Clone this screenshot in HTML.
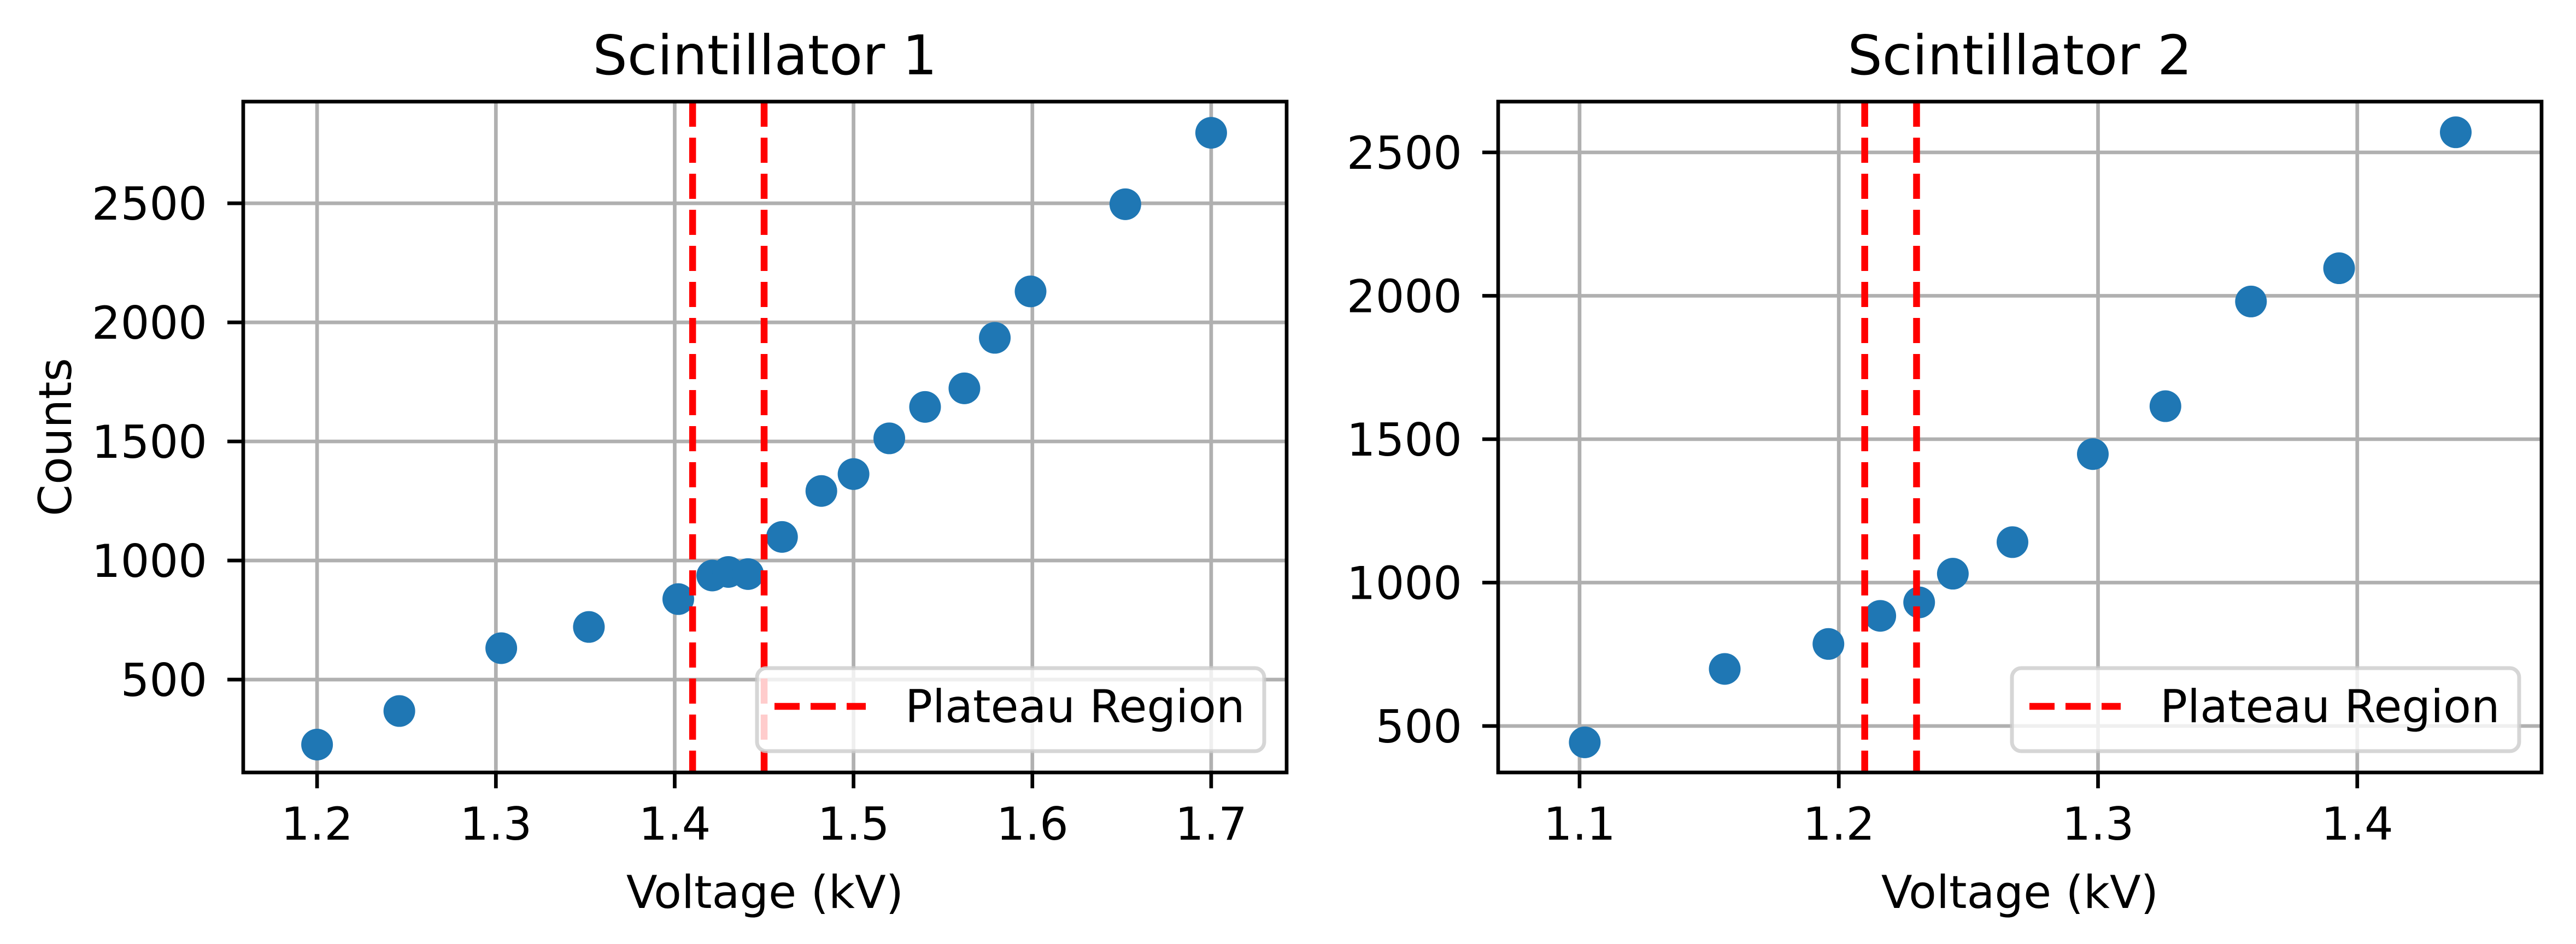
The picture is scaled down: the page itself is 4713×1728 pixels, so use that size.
<!DOCTYPE html>
<html><head><meta charset="utf-8"><style>
html,body{margin:0;padding:0;background:#fff;}
svg{display:block;font-family:"DejaVu Sans","Liberation Sans",sans-serif;}
</style></head><body>
<svg id="fig" width="4713" height="1728" viewBox="0 0 4713 1728" xmlns="http://www.w3.org/2000/svg"></svg>
<script>
const s1Volt=[1.2,1.246,1.303,1.352,1.402,1.421,1.43,1.441,1.46,1.482,1.5,1.52,1.54,1.562,1.579,1.599,1.652,1.7];
const s1Counts=[227,368,632,721,838,937,952,943,1099,1292,1363,1513,1645,1723,1935,2130,2496,2796];
const s1Plateau=[1.41,1.45];
const s1XTicks=[1.2,1.3,1.4,1.5,1.6,1.7];
const s1YTicks=[500,1000,1500,2000,2500];
const s2Volt=[1.102,1.156,1.196,1.216,1.231,1.244,1.267,1.298,1.326,1.359,1.393,1.438];
const s2Counts=[443,699,786,884,931,1031,1141,1448,1615,1980,2096,2570];
const s2Plateau=[1.21,1.23];
const s2XTicks=[1.1,1.2,1.3,1.4];
const s2YTicks=[500,1000,1500,2000,2500];

const NS="http://www.w3.org/2000/svg";
const svg=document.getElementById('fig');
function mk(tag,attrs,parent){const e=document.createElementNS(NS,tag);for(const k in attrs)e.setAttribute(k,attrs[k]);(parent||svg).appendChild(e);return e;}

function panel(o){
  const g=mk('g',{});
  
  
  const X=v=>o.x0+(v-o.xmin)/(o.xmax-o.xmin)*(o.x1-o.x0);
  const Y=v=>o.y1-(v-o.ymin)/(o.ymax-o.ymin)*(o.y1-o.y0);
  // grid
  o.xt.forEach(t=>{const l=mk('line',{x1:X(t),x2:X(t),y1:o.y0,y2:o.y1,stroke:'#b0b0b0','stroke-width':6.7},g);
    });
  o.yt.forEach(t=>{const l=mk('line',{x1:o.x0,x2:o.x1,y1:Y(t),y2:Y(t),stroke:'#b0b0b0','stroke-width':6.7},g);
    });
  // points
  o.vx.forEach((v,i)=>{const c=mk('circle',{cx:X(v),cy:Y(o.vy[i]),r:29,fill:'#1f77b4'},g);
    });
  // plateau lines
  o.pl.forEach(v=>{const l=mk('line',{x1:X(v),x2:X(v),y1:o.y0,y2:o.y1,stroke:'#ff0000','stroke-width':12.5,'stroke-dasharray':'46 20'},g);
    });
  // frame
  const f=mk('rect',{x:o.x0,y:o.y0,width:o.x1-o.x0,height:o.y1-o.y0,fill:'none',stroke:'#000','stroke-width':6.7},g);
  
  // ticks
  o.xt.forEach(t=>{mk('line',{x1:X(t),x2:X(t),y1:o.y1,y2:o.y1+29,stroke:'#000','stroke-width':6.7},g);
    const tx=mk('text',{x:X(t),y:1537,'font-size':83,'text-anchor':'middle'},g);tx.textContent=t.toFixed(1);
    });
  o.yt.forEach(t=>{mk('line',{x1:o.x0-29,x2:o.x0,y1:Y(t),y2:Y(t),stroke:'#000','stroke-width':6.7},g);
    const tx=mk('text',{x:o.x0-66,y:Y(t)+30,'font-size':83,'text-anchor':'end'},g);tx.textContent=String(t);
    });
  // title, xlabel
  const ti=mk('text',{x:(o.x0+o.x1)/2,y:136,'font-size':100,'text-anchor':'middle'},g);ti.textContent=o.title;
  
  const xl=mk('text',{x:(o.x0+o.x1)/2,y:1662,'font-size':83,'text-anchor':'middle'},g);xl.textContent='Voltage (kV)';
  
  // legend
  const lg=mk('g',{},g);
  
  const lx=o.x1-41-928;
  mk('rect',{x:lx,y:1223,width:928,height:152,rx:17,fill:'rgba(255,255,255,0.8)',stroke:'rgba(204,204,204,0.8)','stroke-width':7},lg);
  mk('line',{x1:lx+32,x2:lx+199,y1:1293,y2:1293,stroke:'#ff0000','stroke-width':12.5,'stroke-dasharray':'46 20'},lg);
  const lt=mk('text',{x:lx+271,y:1322,'font-size':83},lg);lt.textContent='Plateau Region';
  
}
panel({name:'scintillator-1-panel',title:'Scintillator 1',x0:445,x1:2354,y0:186,y1:1414,xmin:1.1587,xmax:1.7422,ymin:110,ymax:2927,
  xt:s1XTicks,yt:s1YTicks,vx:s1Volt,vy:s1Counts,pl:s1Plateau});
panel({name:'scintillator-2-panel',title:'Scintillator 2',x0:2741,x1:4650,y0:186,y1:1414,xmin:1.0686,xmax:1.4711,ymin:338,ymax:2677,
  xt:s2XTicks,yt:s2YTicks,vx:s2Volt,vy:s2Counts,pl:s2Plateau});
const yl=mk('text',{x:0,y:0,'font-size':83,'text-anchor':'middle',transform:'translate(130,800) rotate(-90)'});
yl.textContent='Counts';


</script>
</body></html>
